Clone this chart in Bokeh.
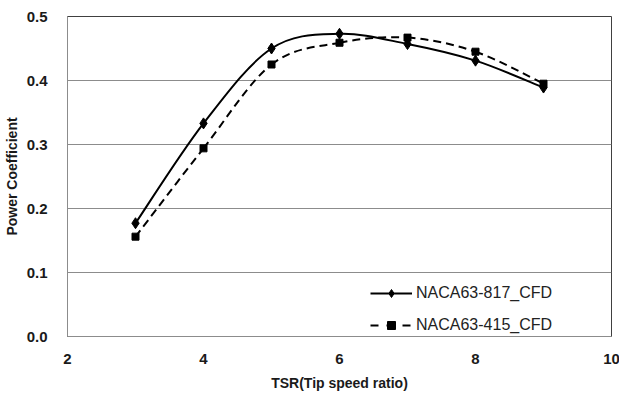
import numpy as np
from bokeh.plotting import figure
from bokeh.models import Legend, LegendItem, FixedTicker, PrintfTickFormatter, Range1d, ColumnDataSource
from bokeh.embed import file_html
from bokeh.resources import INLINE

# ---- data ----
tsr = [3, 4, 5, 6, 7, 8, 9]
cp_817 = [0.177, 0.333, 0.450, 0.473, 0.457, 0.431, 0.389]
cp_415 = [0.156, 0.294, 0.425, 0.459, 0.467, 0.445, 0.395]
x_ticks = [2, 4, 6, 8, 10]
y_ticks = [0.0, 0.1, 0.2, 0.3, 0.4, 0.5]
series_names = ["NACA63-817_CFD", "NACA63-415_CFD"]


def smooth_segments(xs, ys):
    """Catmull-Rom style Bezier segments through the data points (Excel-like smoothing)."""
    out = {}
    for key, v in (("x", xs), ("y", ys)):
        a = np.asarray(v, dtype=float)
        n = len(a)
        ap = np.concatenate([[a[0]], a, [a[-1]]])
        out[key + "0"] = a[:-1]
        out[key + "1"] = a[1:]
        out["c" + key + "0"] = a[:-1] + (ap[2:n + 1] - ap[0:n - 1]) / 6.0
        out["c" + key + "1"] = a[1:] - (ap[3:n + 2] - ap[1:n]) / 6.0
    return ColumnDataSource(out)


p = figure(
    frame_width=544, frame_height=320,
    min_border_left=65, min_border_right=10, min_border_top=16, min_border_bottom=60,
    x_range=Range1d(2, 10), y_range=Range1d(0, 0.5),
    output_backend="svg", toolbar_location=None,
    background_fill_color="white", border_fill_color="white",
)

font = "Liberation Sans"
p.outline_line_color = "#404040"
p.outline_line_width = 1

# axes
p.xaxis.ticker = FixedTicker(ticks=x_ticks)
p.yaxis.ticker = FixedTicker(ticks=y_ticks)
p.yaxis.formatter = PrintfTickFormatter(format="%.1f")
for ax in (p.xaxis, p.yaxis):
    ax.major_tick_line_color = None
    ax.minor_tick_line_color = None
    ax.axis_line_color = "#8c8c8c"
    ax.major_label_text_font = font
    ax.major_label_text_font_style = "bold"
    ax.major_label_text_font_size = "15px"
    ax.major_label_text_color = "#1a1a1a"
    ax.axis_label_text_font = font
    ax.axis_label_text_font_style = "bold"
    ax.axis_label_text_font_size = "14px"
    ax.axis_label_text_color = "#1a1a1a"
p.xaxis.axis_label = "TSR(Tip speed ratio)"
p.yaxis.axis_label = "Power Coefficient"
p.yaxis.major_label_standoff = 14
p.yaxis.axis_label_standoff = 4
p.xaxis.major_label_standoff = 11
p.xaxis.axis_label_standoff = 8

p.xgrid.grid_line_color = None
p.ygrid.grid_line_color = "#8c8c8c"
p.ygrid.grid_line_width = 1

# series 1: solid + diamonds
src1 = smooth_segments(tsr, cp_817)
p.bezier(x0="x0", y0="y0", x1="x1", y1="y1", cx0="cx0", cy0="cy0", cx1="cx1", cy1="cy1",
         source=src1, line_color="black", line_width=2)
m1 = p.scatter(tsr, cp_817, marker="diamond", size=11, fill_color="black", line_color="black")

# series 2: dashed + squares
src2 = smooth_segments(tsr, cp_415)
p.bezier(x0="x0", y0="y0", x1="x1", y1="y1", cx0="cx0", cy0="cy0", cx1="cx1", cy1="cy1",
         source=src2, line_color="black", line_width=2, line_dash="8 5")
m2 = p.scatter(tsr, cp_415, marker="square", size=7, fill_color="black", line_color="black")

# legend proxies
l1 = p.line([np.nan], [np.nan], line_color="black", line_width=2)
l2 = p.line([np.nan], [np.nan], line_color="black", line_width=2, line_dash="8 8")

legend = Legend(
    items=[LegendItem(label=series_names[0], renderers=[l1, m1]),
           LegendItem(label=series_names[1], renderers=[l2, m2])],
    location=(303, 1),
    glyph_width=42, glyph_height=20, label_height=20, spacing=12,
    label_standoff=4, padding=0, margin=0,
    border_line_color=None, background_fill_alpha=0,
    label_text_font=font, label_text_font_size="16px", label_text_color="#222222",
)
p.add_layout(legend, "center")

open("out.html", "w").write(file_html(p, INLINE))
